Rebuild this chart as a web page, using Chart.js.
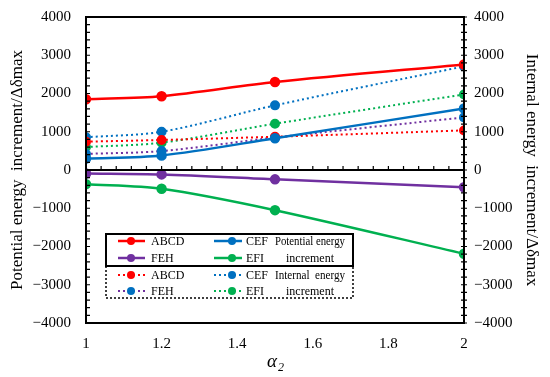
<!DOCTYPE html>
<html>
<head>
<meta charset="utf-8">
<script src="https://cdn.jsdelivr.net/npm/chart.js@4"></script>
<style>
  html, body { margin: 0; padding: 0; background: #fff; }
  #wrap { width: 550px; height: 377px; }
</style>
</head>
<body>
<div id="wrap"><canvas id="chart"></canvas></div>
<script>
// alpha2 values
const alpha = [1, 1.2, 1.5, 2];

// potential energy increment (solid)
const peABCD = [1850, 1930, 2300, 2760];
const peCEF = [300, 380, 830, 1610];
const peFEH = [-90, -115, -245, -450];
const peEFI = [-370, -490, -1050, -2190];

// internal energy increment (dotted)
const ieABCD = [740, 785, 870, 1035];
const ieCEF = [855, 1000, 1690, 2710];
const ieFEH = [420, 495, 850, 1375];
const ieEFI = [600, 715, 1210, 1975];

const yTicks = [-4000, -3000, -2000, -1000, 0, 1000, 2000, 3000, 4000];
const xTicks = [1, 1.2, 1.4, 1.6, 1.8, 2];

const RED = '#ff0000', BLUE = '#0070c0', PURPLE = '#7030a0', GREEN = '#00b050';
const FONT = "'Liberation Serif', 'Times New Roman', serif";

function pts(ys) {
    return alpha.map((x, i) => ({ x: x, y: ys[i] }));
}

function solid(label, ys, color) {
    return {
        label: label, data: pts(ys), borderColor: color, backgroundColor: color,
        pointBackgroundColor: color, pointBorderColor: color,
        borderWidth: 2.5, pointRadius: 4, tension: 0.3, yAxisID: 'y'
    };
}

function dotted(label, ys, color, marker) {
    return {
        label: label, data: pts(ys), borderColor: color, backgroundColor: marker,
        pointBackgroundColor: marker, pointBorderColor: marker,
        borderWidth: 2, borderDash: [2, 3], pointRadius: 4, tension: 0.3, yAxisID: 'y2'
    };
}

const datasets = [
    solid('ABCD', peABCD, RED),
    solid('CEF', peCEF, BLUE),
    solid('FEH', peFEH, PURPLE),
    solid('EFI', peEFI, GREEN),
    dotted('ABCD', ieABCD, RED, RED),
    dotted('CEF', ieCEF, BLUE, BLUE),
    dotted('FEH', ieFEH, PURPLE, BLUE),
    dotted('EFI', ieEFI, GREEN, GREEN)
];

// frame, inward ticks, zero axis line and alpha2 title
const framePlugin = {
    id: 'frame',
    afterDatasetsDraw(chart) {
        const ctx = chart.ctx;
        const a = chart.chartArea;
        const x = chart.scales.x, y = chart.scales.y;
        ctx.save();
        ctx.strokeStyle = '#000';
        ctx.lineWidth = 2;
        ctx.strokeRect(a.left, a.top, a.right - a.left, a.bottom - a.top);
        const y0 = y.getPixelForValue(0);
        ctx.beginPath();
        ctx.moveTo(a.left, y0);
        ctx.lineTo(a.right, y0);
        ctx.stroke();
        ctx.lineWidth = 1.2;
        ctx.beginPath();
        for (let v = -4000; v <= 4000; v += 200) {
            const p = y.getPixelForValue(v);
            ctx.moveTo(a.left, p); ctx.lineTo(a.left + 4, p);
            ctx.moveTo(a.right - 3, p); ctx.lineTo(a.right + 3, p);
        }
        for (let i = 1; i < 25; i++) {
            const p = x.getPixelForValue(1 + i * 0.04);
            ctx.moveTo(p, y0); ctx.lineTo(p, y0 - 4);
        }
        ctx.stroke();
        // x axis title
        const cx = x.getPixelForValue(1.5);
        ctx.fillStyle = '#000';
        ctx.textBaseline = 'alphabetic';
        ctx.textAlign = 'left';
        ctx.font = 'italic 19px ' + FONT;
        ctx.fillText('α', cx - 8, 367);
        ctx.font = 'italic 12px ' + FONT;
        ctx.fillText('2', cx + 3, 371);
        ctx.restore();
    }
};

// legend: solid box for potential energy, dotted box for internal energy
const legendPlugin = {
    id: 'boxLegend',
    afterDraw(chart) {
        const ctx = chart.ctx;
        const left = 106, right = 353, top = 234, mid = 266, bottom = 298;
        ctx.save();
        ctx.fillStyle = '#fff';
        ctx.fillRect(left, top, right - left, bottom - top);
        ctx.strokeStyle = '#000';
        ctx.lineWidth = 2;
        ctx.strokeRect(left, top, right - left, mid - top);
        ctx.lineWidth = 1.5;
        ctx.setLineDash([2, 2]);
        ctx.beginPath();
        ctx.moveTo(left, mid);
        ctx.lineTo(left, bottom);
        ctx.lineTo(right, bottom);
        ctx.lineTo(right, mid);
        ctx.stroke();
        ctx.setLineDash([]);

        const rows = [241, 258, 275, 291];
        const cols = [[118, 145, 131, 151], [214, 242, 232, 246]];
        datasets.forEach((ds, i) => {
            const row = rows[Math.floor(i / 4) * 2 + Math.floor((i % 4) / 2)];
            const col = cols[i % 2];
            ctx.strokeStyle = ds.borderColor;
            ctx.lineWidth = ds.borderWidth;
            ctx.setLineDash(ds.borderDash || []);
            ctx.beginPath();
            ctx.moveTo(col[0], row);
            ctx.lineTo(col[1], row);
            ctx.stroke();
            ctx.setLineDash([]);
            ctx.fillStyle = ds.pointBackgroundColor;
            ctx.beginPath();
            ctx.arc(col[2], row, 4, 0, Math.PI * 2);
            ctx.fill();
            ctx.fillStyle = '#000';
            ctx.font = '12px ' + FONT;
            ctx.textAlign = 'left';
            ctx.textBaseline = 'middle';
            ctx.fillText(ds.label, col[3], row + 1);
        });
        ctx.textAlign = 'center';
        ctx.fillText('Potential energy', 310, rows[0] + 1, 70);
        ctx.fillText('increment', 310, rows[1] + 1, 70);
        ctx.fillText('Internal  energy', 310, rows[2] + 1, 70);
        ctx.fillText('increment', 310, rows[3] + 1, 70);
        ctx.restore();
    }
};

const tickFont = { family: FONT, size: 15 };
const titleFont = { family: FONT, size: 17 };
const minus = v => String(v).replace('-', '\u2212');

new Chart(document.getElementById('chart'), {
    type: 'line',
    data: { datasets: datasets },
    plugins: [framePlugin, legendPlugin],
    options: {
        responsive: true,
        maintainAspectRatio: false,
        animation: false,
        layout: { padding: { top: 17, left: 0, right: 0, bottom: 0 } },
        plugins: { legend: { display: false }, tooltip: { enabled: false } },
        scales: {
            x: {
                type: 'linear', min: 1, max: 2,
                grid: { display: false }, border: { display: false },
                afterBuildTicks: s => { s.ticks = xTicks.map(v => ({ value: v })); },
                ticks: { font: tickFont, color: '#000', padding: 4, callback: v => String(v) },
                afterFit: s => { s.height = 54; }
            },
            y: {
                position: 'left', min: -4000, max: 4000,
                grid: { display: false }, border: { display: false },
                afterBuildTicks: s => { s.ticks = yTicks.map(v => ({ value: v })); },
                ticks: { font: tickFont, color: '#000', padding: 7, callback: minus },
                title: { display: true, text: 'Potential energy  increment/\u0394\u03b4max', font: titleFont, color: '#000', padding: { top: 7, bottom: 0 } },
                afterFit: s => { s.width = 86; }
            },
            y2: {
                position: 'right', min: -4000, max: 4000,
                grid: { display: false }, border: { display: false },
                afterBuildTicks: s => { s.ticks = yTicks.map(v => ({ value: v })); },
                ticks: { font: tickFont, color: '#000', padding: 2, callback: minus },
                title: { display: true, text: 'Internal energy  increment/\u0394\u03b4max', font: titleFont, color: '#000', padding: { top: 8, bottom: 0 } },
                afterFit: s => { s.width = 86; }
            }
        }
    }
});
</script>
</body>
</html>
